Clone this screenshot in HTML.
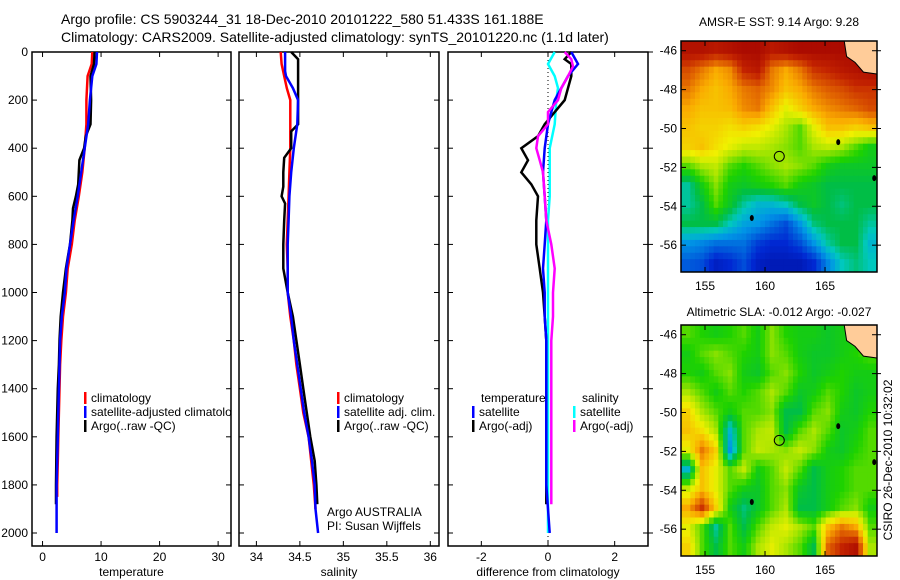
<!DOCTYPE html>
<html><head><meta charset="utf-8"><style>
body{margin:0;background:#fff;}
svg{display:block;font-family:"Liberation Sans",sans-serif;}
text{font-size:12px;fill:#000;}
</style></head><body>
<svg id="c" width="900" height="580" xmlns="http://www.w3.org/2000/svg">
<text x="61" y="24" style="font-size:14px">Argo profile: CS 5903244_31 18-Dec-2010 20101222_580 51.433S 161.188E</text>
<text x="61" y="42" style="font-size:14px">Climatology: CARS2009. Satellite-adjusted climatology: synTS_20101220.nc (1.1d later)</text>
<text x="779" y="26" text-anchor="middle">AMSR-E SST: 9.14 Argo: 9.28</text>
<text x="779" y="316" text-anchor="middle">Altimetric SLA: -0.012 Argo: -0.027</text>
<text transform="translate(892,460) rotate(-90)" text-anchor="middle">CSIRO 26-Dec-2010 10:32:02</text>
<g id="g"></g>
</svg>
<script>
// ---- profile data ----
const tClimDepth=[0,50,100,200,300,400,500,600,700,800,900,1000,1100,1200,1300,1400,1500,1600,1700,1800,1850];
const tClim=[8.5,8.4,7.7,7.5,7.5,7.2,6.8,6.2,5.5,5.0,4.3,4.0,3.5,3.2,3.0,2.9,2.8,2.7,2.6,2.5,2.5];
const tSatDepth=[0,50,100,200,300,400,500,600,700,800,900,1000,1100,1200,1300,1400,1500,1600,1700,1800,2000];
const tSat=[9.3,9.2,8.5,8.1,7.8,7.2,6.6,6.0,5.3,4.7,4.1,3.8,3.3,3.0,2.9,2.8,2.7,2.6,2.5,2.4,2.4];
const tArgoDepth=[0,50,100,200,300,350,400,450,500,550,600,650,700,800,900,1000,1100,1200,1300,1400,1500,1600,1800,1880];
const tArgo=[8.9,8.8,8.2,8.3,8.2,7.4,7.1,6.3,6.2,6.1,5.7,5.2,5.1,4.7,4.0,3.5,3.1,2.9,2.8,2.6,2.5,2.4,2.3,2.3];
const sClimDepth=[0,50,100,150,200,300,400,500,600,700,800,900,1000,1100,1200,1300,1400,1500,1600,1700,1800,1900];
const sClim=[34.28,34.29,34.32,34.35,34.39,34.39,34.39,34.38,34.37,34.36,34.35,34.36,34.36,34.39,34.43,34.46,34.5,34.54,34.6,34.63,34.66,34.68];
const sSatDepth=[0,80,100,150,200,300,400,500,600,700,800,900,1000,1100,1200,1300,1400,1500,1600,1700,1800,1900,2000];
const sSat=[34.33,34.33,34.34,34.42,34.48,34.47,34.43,34.4,34.38,34.37,34.36,34.36,34.36,34.4,34.43,34.47,34.51,34.55,34.6,34.64,34.67,34.68,34.71];
const sArgoDepth=[0,30,100,200,300,330,400,440,500,560,600,630,700,800,900,1000,1100,1200,1300,1400,1500,1600,1700,1800,1880];
const sArgo=[34.4,34.48,34.48,34.48,34.48,34.4,34.4,34.32,34.31,34.31,34.29,34.33,34.32,34.31,34.31,34.36,34.42,34.46,34.5,34.54,34.58,34.62,34.67,34.69,34.7];
const dTSatDepth=[0,50,100,150,200,250,300,400,500,600,700,800,900,1000,1100,1200,1300,1400,1500,1600,1800,2000];
const dTSat=[0.7,0.9,0.6,0.4,0.2,0.1,0.0,-0.1,-0.15,-0.1,-0.05,-0.1,-0.15,-0.1,-0.1,-0.05,-0.05,-0.05,-0.05,-0.05,-0.05,0.05];
const dTArgoDepth=[0,30,50,100,150,200,250,300,350,400,450,500,550,600,700,800,900,1000,1100,1200,1300,1400,1500,1600,1700,1880];
const dTArgo=[0.7,0.5,0.7,0.7,0.6,0.5,0.2,-0.1,-0.3,-0.8,-0.6,-0.8,-0.5,-0.3,-0.35,-0.35,-0.25,-0.15,-0.1,-0.05,-0.05,-0.05,-0.05,-0.05,-0.05,-0.05];
const dSSatDepth=[0,50,100,150,200,300,400,500,600,700,800,1000,1200,1400,1600,1800,2000];
const dSSat=[0.2,0.0,0.2,0.3,0.25,0.2,0.05,0.05,0.05,0.0,0.0,0.0,0.0,0.0,0.0,0.0,0.0];
const dSArgoDepth=[0,30,60,100,150,200,250,300,350,400,450,500,600,700,800,900,1000,1100,1200,1300,1400,1600,1800,1880];
const dSArgo=[0.5,0.7,0.75,0.6,0.4,0.3,0.0,0.0,-0.3,-0.35,-0.25,-0.15,-0.1,-0.05,0.1,0.2,0.15,0.15,0.1,0.1,0.1,0.1,0.1,0.1];
const depthTicks=[0,200,400,600,800,1000,1200,1400,1600,1800,2000];
const tempTicks=[0,10,20,30];
const salTicks=[34,34.5,35,35.5,36];
const diffTicks=[-2,0,2];
// ---- map data (normalised colour index) ----
const lonTicks=[155,160,165];
const latTicks=[-46,-48,-50,-52,-54,-56];
const sstGrid=[
[0.95,0.95,0.93,0.95,0.97,0.97,0.93,0.95,0.97,0.97,0.97,0.97,0.97,0.97],
[0.85,0.8,0.75,0.78,0.9,0.93,0.8,0.75,0.8,0.88,0.9,0.93,0.95,0.97],
[0.8,0.75,0.72,0.75,0.8,0.82,0.78,0.72,0.75,0.8,0.83,0.85,0.88,0.88],
[0.75,0.72,0.72,0.73,0.78,0.8,0.72,0.65,0.7,0.75,0.78,0.8,0.82,0.85],
[0.72,0.7,0.7,0.68,0.7,0.68,0.65,0.6,0.55,0.65,0.72,0.72,0.7,0.72],
[0.7,0.72,0.68,0.65,0.62,0.62,0.6,0.58,0.55,0.6,0.62,0.6,0.55,0.5],
[0.55,0.6,0.62,0.55,0.52,0.55,0.58,0.6,0.58,0.55,0.5,0.48,0.48,0.48],
[0.4,0.5,0.58,0.5,0.48,0.5,0.52,0.55,0.5,0.48,0.45,0.45,0.45,0.45],
[0.4,0.45,0.55,0.48,0.4,0.35,0.35,0.38,0.45,0.48,0.45,0.42,0.45,0.45],
[0.45,0.45,0.45,0.38,0.32,0.3,0.25,0.2,0.3,0.42,0.45,0.45,0.45,0.4],
[0.3,0.28,0.25,0.25,0.25,0.18,0.15,0.15,0.2,0.3,0.4,0.45,0.45,0.35],
[0.22,0.2,0.12,0.15,0.2,0.12,0.1,0.1,0.1,0.15,0.28,0.38,0.42,0.38]];
const slaGrid=[
[0.55,0.52,0.5,0.52,0.55,0.5,0.58,0.52,0.5,0.5,0.48,0.5,0.5,0.5],
[0.5,0.55,0.58,0.55,0.52,0.5,0.58,0.55,0.5,0.48,0.48,0.5,0.52,0.55],
[0.52,0.5,0.55,0.58,0.5,0.48,0.55,0.58,0.52,0.48,0.5,0.52,0.5,0.5],
[0.6,0.55,0.5,0.55,0.52,0.55,0.6,0.55,0.48,0.5,0.55,0.52,0.48,0.5],
[0.7,0.6,0.55,0.5,0.55,0.55,0.58,0.45,0.45,0.55,0.58,0.5,0.48,0.52],
[0.72,0.68,0.6,0.35,0.55,0.6,0.62,0.45,0.55,0.6,0.55,0.48,0.5,0.55],
[0.65,0.8,0.7,0.3,0.55,0.62,0.6,0.58,0.62,0.58,0.5,0.48,0.52,0.55],
[0.35,0.72,0.65,0.55,0.62,0.5,0.55,0.62,0.55,0.45,0.5,0.52,0.55,0.55],
[0.62,0.72,0.65,0.55,0.5,0.48,0.55,0.58,0.48,0.45,0.5,0.52,0.55,0.55],
[0.75,0.88,0.7,0.5,0.42,0.48,0.55,0.6,0.45,0.45,0.5,0.55,0.58,0.5],
[0.65,0.55,0.4,0.55,0.45,0.55,0.62,0.65,0.6,0.55,0.72,0.8,0.75,0.55],
[0.7,0.55,0.45,0.55,0.5,0.6,0.65,0.6,0.55,0.45,0.82,0.9,0.95,0.6]];
const floatLon=161.188, floatLat=-51.433;

const NS='http://www.w3.org/2000/svg';
const G=document.getElementById('g');
function mk(t,a,p){const e=document.createElementNS(NS,t);for(const k in a)e.setAttribute(k,a[k]);(p||G).appendChild(e);return e;}

const Y0=52,Y1=546,D0=0,D1=2054;
const yD=d=>Y0+(d-D0)/(D1-D0)*(Y1-Y0);
const panels=[
 {x0:32,x1:231,v0:-1.8,v1:32.2,ticks:tempTicks,label:'temperature',name:'temperature-panel',yl:true},
 {x0:239,x1:439,v0:33.8,v1:36.1,ticks:salTicks,label:'salinity',name:'salinity-panel'},
 {x0:448,x1:648,v0:-3,v1:3,ticks:diffTicks,label:'difference from climatology',name:'difference-panel',rt:true}
];
panels.forEach(p=>{p.sx=v=>p.x0+(v-p.v0)/(p.v1-p.v0)*(p.x1-p.x0);});

panels.forEach(p=>{
 const g=mk('g',{});
 
 
 const r=mk('rect',{x:p.x0,y:Y0,width:p.x1-p.x0,height:Y1-Y0,fill:'none',stroke:'#000','stroke-width':1.5},g);
 
 
 depthTicks.forEach(d=>{
  const y=yD(d);
  mk('line',{x1:p.x0,x2:p.x0+5,y1:y,y2:y,stroke:'#000'},g);
  mk('line',{x1:p.x1,x2:p.x1-5,y1:y,y2:y,stroke:'#000'},g);
  if(p.rt) mk('line',{x1:p.x1,x2:p.x1+5,y1:y,y2:y,stroke:'#000'},g);
  if(p.yl){const t=mk('text',{x:28,y:y+4,'text-anchor':'end'},g);t.textContent=d;
   
   }
 });
 p.ticks.forEach(v=>{
  const x=p.sx(v);
  mk('line',{x1:x,x2:x,y1:Y1,y2:Y1-5,stroke:'#000'},g);
  mk('line',{x1:x,x2:x,y1:Y0,y2:Y0+5,stroke:'#000'},g);
  const t=mk('text',{x:x,y:561,'text-anchor':'middle'},g);t.textContent=v;
  
  
 });
 const xl=mk('text',{x:(p.x0+p.x1)/2,y:576,'text-anchor':'middle'},g);xl.textContent=p.label;
 
 
});

const zl=mk('line',{x1:panels[2].sx(0),x2:panels[2].sx(0),y1:Y0,y2:Y1,stroke:'#000','stroke-dasharray':'1,3'});



function series(p,depths,vals,col,name){
 const pts=depths.map((d,i)=>p.sx(vals[i]).toFixed(1)+','+yD(d).toFixed(1)).join(' ');
 const e=mk('polyline',{points:pts,fill:'none',stroke:col,'stroke-width':2.5});
 
 
}
series(panels[0],tClimDepth,tClim,'#f00','temperature-climatology-line');
series(panels[0],tArgoDepth,tArgo,'#000','temperature-argo-line');
series(panels[0],tSatDepth,tSat,'#00f','temperature-satellite-line');
series(panels[1],sClimDepth,sClim,'#f00','salinity-climatology-line');
series(panels[1],sArgoDepth,sArgo,'#000','salinity-argo-line');
series(panels[1],sSatDepth,sSat,'#00f','salinity-satellite-line');
series(panels[2],dSSatDepth,dSSat,'#0ff','salinity-satellite-diff-line');
series(panels[2],dTArgoDepth,dTArgo,'#000','temperature-argo-diff-line');
series(panels[2],dTSatDepth,dTSat,'#00f','temperature-satellite-diff-line');
series(panels[2],dSArgoDepth,dSArgo,'#f0f','salinity-argo-diff-line');

function legend(x,y,col,txt,clipW){
 const g=mk('g',{});
 
 
 if(col) mk('rect',{x:x,y:y-10,width:2.5,height:12,fill:col},g);
 const t=mk('text',{x:x+7,y:y},g);t.textContent=txt;
 if(clipW){const s=mk('svg',{x:0,y:0,width:clipW,height:580,overflow:'hidden'},g);s.appendChild(t);}
}
legend(84,402,'#f00','climatology');
legend(84,416,'#00f','satellite-adjusted climatology',231);
legend(84,430,'#000','Argo(..raw -QC)');
legend(337,402,'#f00','climatology');
legend(337,416,'#00f','satellite adj. clim.');
legend(337,430,'#000','Argo(..raw -QC)');
legend(474,402,null,'temperature');
legend(472,416,'#00f','satellite');
legend(472,430,'#000','Argo(-adj)');
legend(575,402,null,'salinity');
legend(573,416,'#0ff','satellite');
legend(573,430,'#f0f','Argo(-adj)');
const a1=mk('text',{x:327,y:516});a1.textContent='Argo AUSTRALIA';


const a2=mk('text',{x:327,y:530});a2.textContent='PI: Susan Wijffels';



// ---- maps ----
const stops=[[0,0,0,130],[0.15,0,40,210],[0.3,0,150,230],[0.38,0,200,190],[0.45,0,190,70],[0.52,30,210,0],[0.6,170,230,0],[0.66,240,240,0],[0.75,250,170,0],[0.82,225,100,0],[0.9,195,35,0],[1,160,0,0]];
function cmap(v){for(let i=1;i<stops.length;i++){if(v<=stops[i][0]){const a=stops[i-1],b=stops[i],f=(v-a[0])/(b[0]-a[0]);return 'rgb('+[1,2,3].map(k=>Math.round(a[k]+f*(b[k]-a[k]))).join(',')+')';}}return 'rgb(160,0,0)';}
function sample(grid,r,c){
 const R=grid.length,C=grid[0].length;
 r=Math.max(0,Math.min(R-1,r));c=Math.max(0,Math.min(C-1,c));
 const r0=Math.floor(r),c0=Math.floor(c),r1=Math.min(R-1,r0+1),c1=Math.min(C-1,c0+1),fr=r-r0,fc=c-c0;
 return (grid[r0][c0]*(1-fc)+grid[r0][c1]*fc)*(1-fr)+(grid[r1][c0]*(1-fc)+grid[r1][c1]*fc)*fr;
}
const MX0=681,MX1=877,LON0=153,LON1=169.33,LAT0=-45.5,LAT1=-57.38;
function drawMap(grid,top,name){
 const bot=top+231;
 const mx=l=>MX0+(l-LON0)/(LON1-LON0)*(MX1-MX0);
 const my=l=>top+(l-LAT0)/(LAT1-LAT0)*(bot-top);
 const g=mk('g',{});
 
 
 const rows=grid.length,cols=grid[0].length,S=3;
 const cw=(MX1-MX0)/cols/S,ch=(bot-top)/rows/S;
 for(let i=0;i<rows*S;i++)for(let j=0;j<cols*S;j++){
  const v=sample(grid,(i+0.5)/S-0.5,(j+0.5)/S-0.5);
  const c=mk('rect',{x:MX0+j*cw,y:top+i*ch,width:cw+0.5,height:ch+0.5,fill:cmap(v)},g);
  
  
 }
 const land=mk('path',{d:`M${mx(166.6)},${top} L${MX1},${top} L${MX1},${my(-47.2)} L${mx(168.2)},${my(-47.1)} L${mx(167.5)},${my(-46.6)} L${mx(166.8)},${my(-46.3)} Z`,fill:'#ffcc99',stroke:'#000','stroke-width':1},g);
 
 
 [[166.1,-50.7],[169.1,-52.55],[158.9,-54.6]].forEach(q=>{
  const isl=mk('ellipse',{cx:mx(q[0]),cy:my(q[1]),rx:2,ry:3,fill:'#000'},g);
  
  
 });
 const fl=mk('circle',{cx:mx(floatLon),cy:my(floatLat),r:5,fill:'none',stroke:'#000'},g);
 
 
 mk('rect',{x:MX0,y:top,width:MX1-MX0,height:bot-top,fill:'none',stroke:'#000','stroke-width':1.5},g);
 lonTicks.forEach(l=>{const x=mx(l);
  mk('line',{x1:x,x2:x,y1:bot,y2:bot-5,stroke:'#000'},g);mk('line',{x1:x,x2:x,y1:top,y2:top+5,stroke:'#000'},g);
  const t=mk('text',{x:x,y:bot+18,'text-anchor':'middle'},g);t.textContent=l;
  
  });
 latTicks.forEach(l=>{const y=my(l);
  mk('line',{x1:MX0,x2:MX0+5,y1:y,y2:y,stroke:'#000'},g);mk('line',{x1:MX1,x2:MX1-5,y1:y,y2:y,stroke:'#000'},g);
  mk('line',{x1:MX1,x2:MX1+4,y1:y,y2:y,stroke:'#000'},g);
  const t=mk('text',{x:MX0-4,y:y+4,'text-anchor':'end'},g);t.textContent=l;
  
  });
}
drawMap(sstGrid,41,'sst-map');
drawMap(slaGrid,325,'sla-map');
</script>
</body></html>
